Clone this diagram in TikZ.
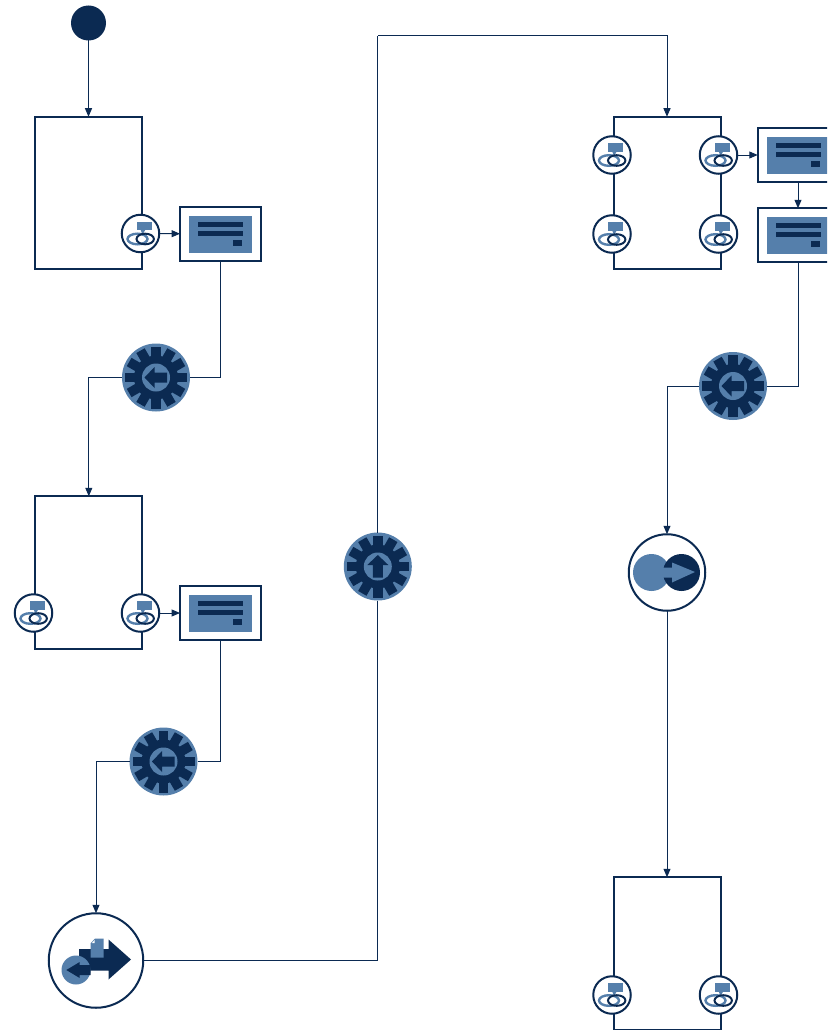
\documentclass[tikz,border=0pt]{standalone}
\usetikzlibrary{arrows.meta}
\definecolor{dk}{HTML}{0B2A52}
\definecolor{lt}{HTML}{557FAB}
\tikzset{
  x=1pt,y=-1pt,
  base/.style={inner sep=0pt,outer sep=0pt},
  taskbox/.style={base,draw=dk,line width=2pt,fill=none,minimum width=107pt,minimum height=152.5pt},
  docbox/.style={base,draw=dk,line width=2pt,fill=white,minimum width=80.5pt,minimum height=53.5pt},
  linkdot/.style={base,circle,draw=dk,line width=2pt,fill=white,minimum size=37.5pt},
  geardot/.style={base,circle,fill=lt,minimum size=68pt},
  startdot/.style={base,circle,fill=dk,minimum size=35pt},
  eventdot/.style={base,circle,draw=dk,line width=2pt,fill=white,minimum size=94.5pt},
  gatedot/.style={base,circle,draw=dk,line width=2pt,fill=white,minimum size=76.5pt},
  flow/.style={draw=dk,line width=1pt},
  flowarrow/.style={flow,-{Triangle[length=8.5pt,width=7pt,fill=dk]}},
  linkicon/.pic={
    \fill[lt] (-4,-12) rectangle (11,-3.5);
    \fill[lt] (0,-4) -- (5,-4) -- (2,1) -- cycle;
    \draw[lt,line width=2.4pt] (-3,5.5) ellipse [x radius=10,y radius=5.3];
    \draw[dk,line width=2pt] (4.7,5.5) ellipse [x radius=8.7,y radius=5.3];
  },
  docicon/.pic={
    \fill[lt] (-31.5,-18.5) rectangle (31.5,18.5);
    \fill[dk] (-22.5,-12.5) rectangle (22.5,-7.5);
    \fill[dk] (-22.5,-3.5) rectangle (22.5,1.5);
    \fill[dk] (12.5,6) rectangle (22,12);
  },
  gearicon/.pic={
    \fill[dk] (0,0) circle [radius=22];
    \foreach \a in {0,30,...,330}{
      \fill[dk,rotate=\a] (-4.8,-31) rectangle (4.8,0);
    }
    \fill[lt] (0,0) circle [radius=14];
    \fill[dk,rotate=#1] (-11.5,0) -- (-1.5,-10.5) -- (-1.5,-5) -- (11,-5) -- (11,5) -- (-1.5,5) -- (-1.5,10.5) -- cycle;
  },
  eventicon/.pic={
    \fill[dk] (-17,-11.5) -- (12.5,-11.5) -- (12.5,-21) -- (35,-1) -- (12.5,19) -- (12.5,10) -- (-17,10) -- cycle;
    \fill[lt] (-5.5,-17) -- (-1,-22) -- (7.5,-22) -- (7.5,-3) -- (-5.5,-3) -- cycle;
    \fill[white] (-4,-17.5) -- (-1.5,-20.5) -- (-1.5,-17.5) -- cycle;
    \fill[lt] (-20,9.5) circle [radius=14.5];
    \fill[dk] (-29.7,9.5) -- (-16.3,1.5) -- (-16.3,4.5) -- (-5.5,4.5) -- (-5.5,14.5) -- (-16.3,14.5) -- (-16.3,17.5) -- cycle;
  },
  gateicon/.pic={
    \fill[lt] (-15.5,0) circle [radius=18.5];
    \fill[dk] (14.5,0) circle [radius=18.5];
    \fill[lt] (-4,-5) -- (5,-5) -- (5,-10) -- (28,-0.5) -- (5,10) -- (5,5) -- (-4,5) -- cycle;
  }
}
\begin{document}
\begin{tikzpicture}
\useasboundingbox (0,0) rectangle (827,1030);
\clip (0,0) rectangle (827,1030);
% boxes
\node[startdot] (start) at (88.5,23) {};
\node[taskbox] (t1) at (88.8,193) {};
\node[taskbox] (t2) at (88.8,572.5) {};
\node[taskbox] (t3) at (667,193) {};
\node[taskbox] (t4) at (667,953.5) {};
\node[linkdot] (l1) at (140.5,233.5) {};
\node[linkdot] (l2) at (33.5,613) {};
\node[linkdot] (l3) at (140.5,613) {};
\node[linkdot] (l4) at (612,155) {};
\node[linkdot] (l5) at (718.5,155) {};
\node[linkdot] (l6) at (612,234) {};
\node[linkdot] (l7) at (718.5,234) {};
\node[linkdot] (l8) at (612,995) {};
\node[linkdot] (l9) at (718.5,995) {};
\node[docbox] (d1) at (220.3,234) {};
\node[docbox] (d2) at (220.3,613) {};
\node[docbox] (d3) at (798,155) {};
\node[docbox] (d4) at (798,235) {};
\node[geardot] (g1) at (156,377.5) {};
\node[geardot] (g2) at (163.5,761.5) {};
\node[geardot] (g3) at (377.8,566.5) {};
\node[geardot] (g4) at (733,386) {};
\node[eventdot] (ev) at (96,960.5) {};
\node[gatedot] (gw) at (667,572.5) {};
\coordinate (up) at (377.8,36);
% connectors
\draw[flowarrow] (start) -- (t1.north -| start);
\draw[flowarrow] (l1) -- (d1);
\draw[flowarrow] (l3) -- (d2);
\draw[flowarrow] (l5) -- (d3);
\draw[flowarrow] (d3) -- (d4);
\draw[flow] (d1.south) |- (g1.east);
\draw[flowarrow] (g1.west) -| (t2.north);
\draw[flow] (d2.south) |- (g2.east);
\draw[flowarrow] (g2.west) -| (ev.north);
\draw[flow] (ev.east) -| (g3.south);
\draw[flow] (g3.north) -- (up);
\draw[flowarrow] (up) -| (t3.north);
\draw[flow] (d4.south) |- (g4.east);
\draw[flowarrow] (g4.west) -| (gw.north);
\draw[flowarrow] (gw.south) -- (t4.north);
% icons
\foreach \p in {(l1),(l2),(l3),(l4),(l5),(l6),(l7),(l8),(l9)}{\pic at \p {linkicon};}
\foreach \p in {(d1),(d2),(d3),(d4)}{\pic at \p {docicon};}
\pic at (g1) {gearicon=0};
\pic at (g2) {gearicon=0};
\pic at (g4) {gearicon=0};
\pic at (g3) {gearicon=-90};
\pic at (ev) {eventicon};
\pic at (gw) {gateicon};
\end{tikzpicture}
\end{document}
